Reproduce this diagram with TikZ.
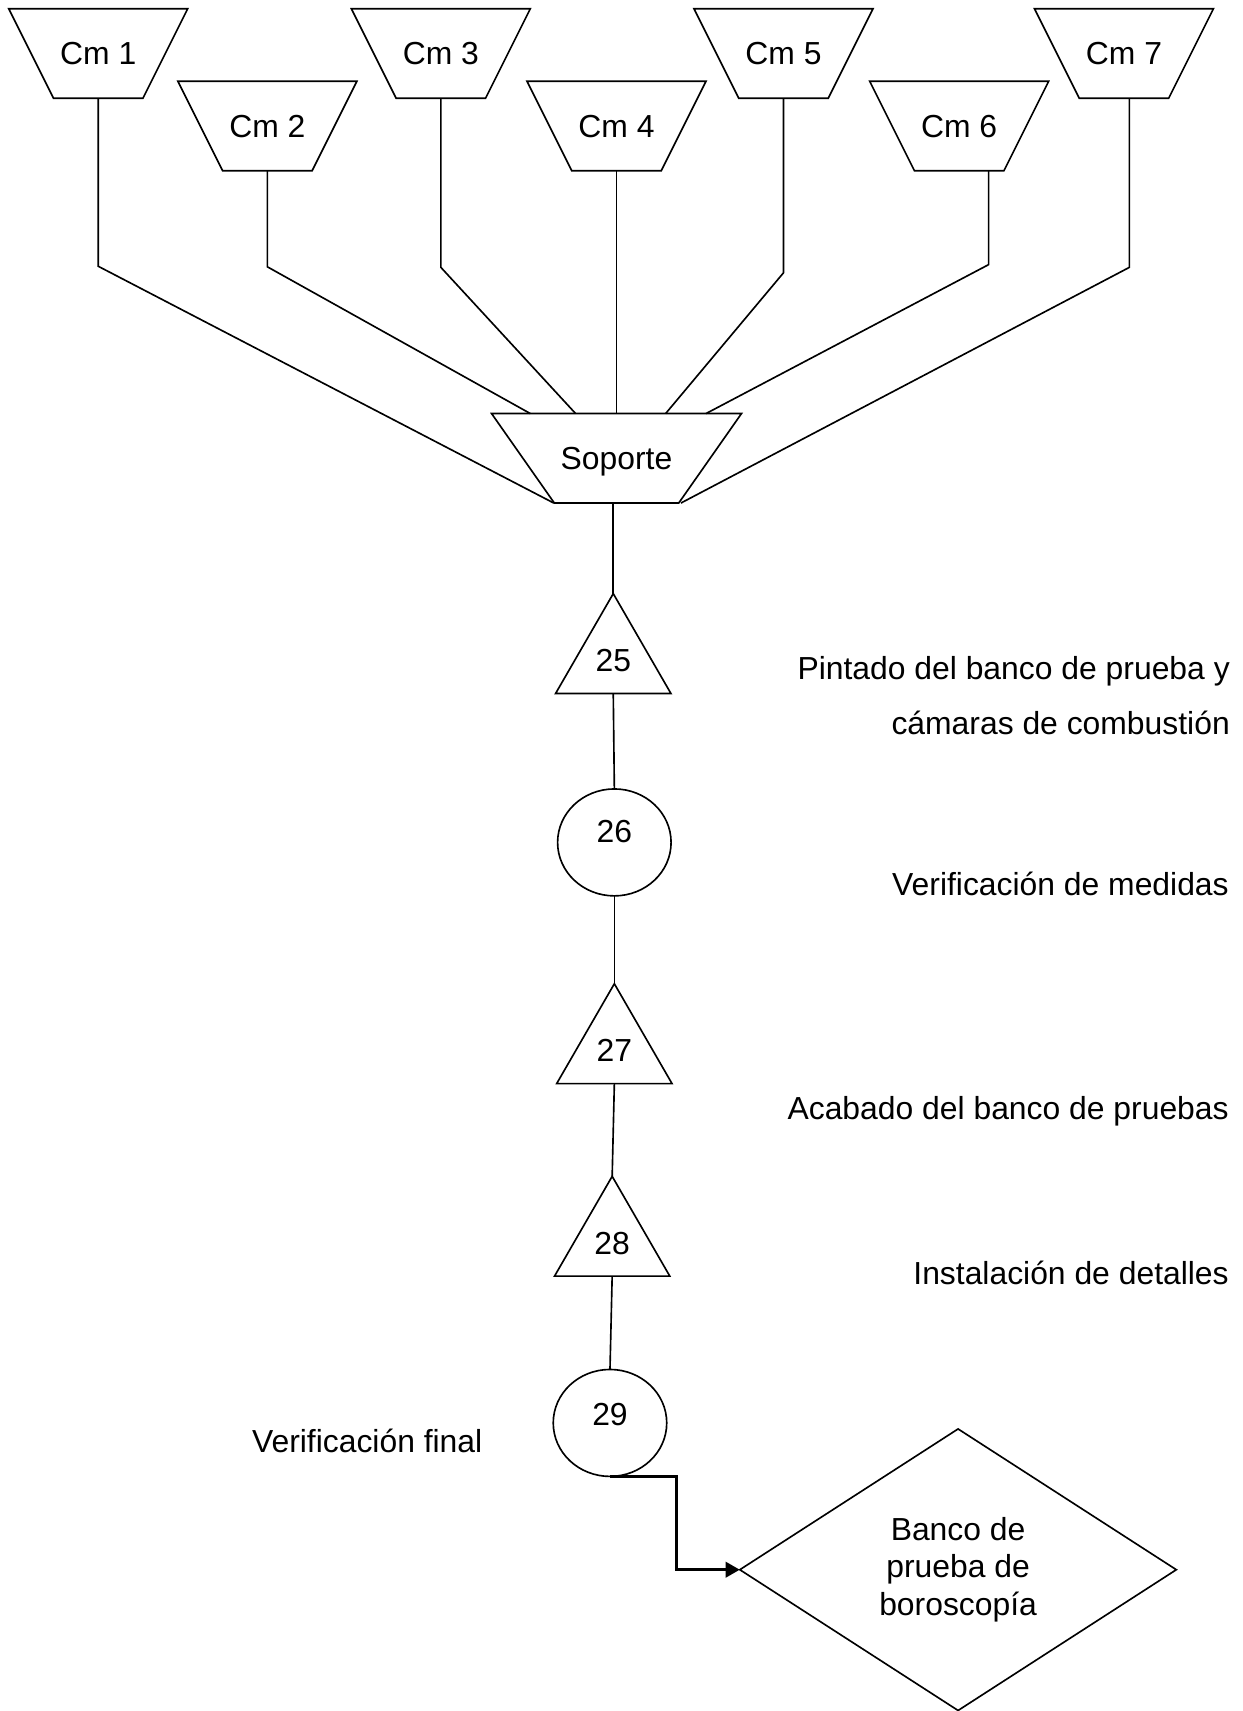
\documentclass[tikz,border=0pt]{standalone}
\usepackage{fontspec}
\setmainfont{Liberation Sans}
\usetikzlibrary{shapes.geometric,calc,arrows.meta}
\begin{document}
\begin{tikzpicture}[x=0.5pt,y=-0.5pt,
  every node/.style={font=\fontsize{14.6}{17}\selectfont, outer sep=0pt},
  conn/.style={line width=0.75pt},
  flow/.style={line width=1.4pt, -{Triangle[length=6.5pt,width=7pt]}},
  cmbox/.style={minimum width=82pt, minimum height=41pt, inner sep=0pt, text depth=0pt},
  basebox/.style={minimum width=114.5pt, minimum height=41pt, inner sep=0pt, text depth=0pt},
  opbox/.style={draw, line width=0.75pt, regular polygon, regular polygon sides=3,
    minimum size=61pt, inner sep=0pt, text depth=0pt},
  checkbox/.style={draw, line width=0.75pt, ellipse, minimum width=52pt,
    minimum height=49pt, inner sep=0pt},
  endbox/.style={draw, line width=0.75pt, diamond, minimum width=200pt,
    minimum height=129pt, inner sep=0pt, align=center},
  note/.style={inner sep=0pt}
]
\useasboundingbox (0,0) rectangle (1139,1568);

% feeding parts
\node[cmbox] (cm1) at (90,49)    {Cm 1};
\node[cmbox] (cm2) at (245,115.5) {Cm 2};
\node[cmbox] (cm3) at (404,49)   {Cm 3};
\node[cmbox] (cm4) at (565,115.5) {Cm 4};
\node[cmbox] (cm5) at (718,49)   {Cm 5};
\node[cmbox] (cm6) at (879,115.5) {Cm 6};
\node[cmbox] (cm7) at (1030,49)  {Cm 7};

% support
\node[basebox] (sop) at (565,420) {Soporte};

% inverted trapezoid outlines (wide side on top)
\foreach \n/\d in {cm1/41,cm2/41,cm3/41,cm4/41,cm5/41,cm6/41,cm7/41,sop/57.5}
  \draw[conn] (\n.north west) -- (\n.north east) -- ($(\n.south east)+(-\d,0)$)
    -- ($(\n.south west)+(\d,0)$) -- cycle;

\draw[conn] (cm1.south) -- ++(0,154) -- ($(sop.center)+(-57.5,41)$);
\draw[conn] (cm2.south) -- ++(0,88)  -- ($(sop.center)+(-79,-41)$);
\draw[conn] (cm3.south) -- ++(0,155) -- ($(sop.center)+(-37.5,-41)$);
\draw[conn] (cm4.south) -- (sop.north);
\draw[conn] (cm5.south) -- ++(0,160) -- ($(sop.center)+(45,-41)$);
\draw[conn] ($(cm6.south)+(27,0)$) -- ++(0,86) -- ($(sop.center)+(82,-41)$);
\draw[conn] ($(cm7.south)+(5,0)$) -- ++(0,155) -- ($(sop.center)+(59,41)$);

% process chain
\node[opbox] (t25) at (562,605) {25};
\node[checkbox, label={[name=n26, yshift=5pt]center:26}] (c26) at (563,772) {};
\node[opbox] (t27) at (563,962.5) {27};
\node[opbox] (t28) at (561,1139) {28};
\node[checkbox, label={[name=n29, yshift=4pt]center:29}] (c29) at (559,1304) {};
\node[endbox] (bd) at (878,1438.5) {Banco de\\prueba de\\boroscopía};

\draw[conn] (t25.corner 1 |- sop.south) -- (t25.corner 1);
\draw[conn] (t25.side 2) -- (c26.north);
\draw[conn] (c26.south) -- (t27.corner 1);
\draw[conn] (t27.side 2) -- (t28.corner 1);
\draw[conn] (t28.side 2) -- (c29.north);
\draw[flow] (c29.south) -- ++(61,0) |- (bd.west);

% step descriptions
\node[note, anchor=base east] (d25a) at (1127,623) {Pintado del banco de prueba y};
\node[note, anchor=base east] (d25b) at (1127,673) {cámaras de combustión};
\node[note, anchor=base east] (d26)  at (1126,821) {Verificación de medidas};
\node[note, anchor=base east] (d27)  at (1126,1026) {Acabado del banco de pruebas};
\node[note, anchor=base east] (d28)  at (1126,1177) {Instalación de detalles};
\node[note, anchor=base west] (d29)  at (231,1331) {Verificación final};
\end{tikzpicture}
\end{document}
